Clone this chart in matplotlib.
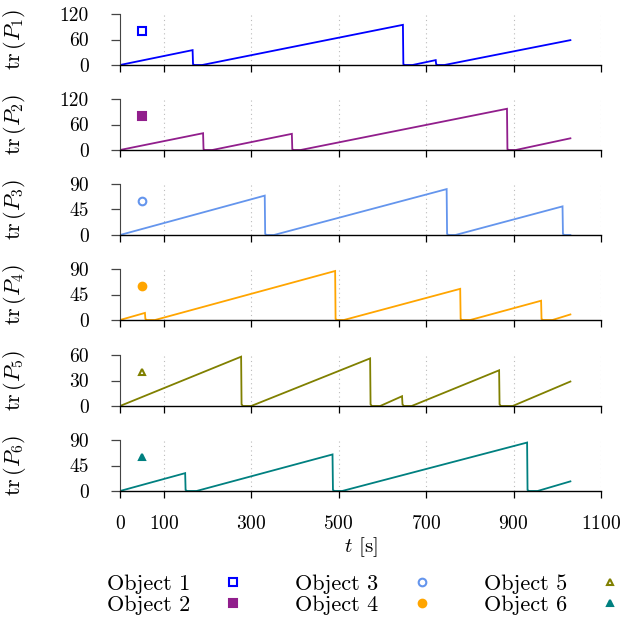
import matplotlib
matplotlib.use("Agg")
import matplotlib.pyplot as plt
from matplotlib.lines import Line2D

plt.rcParams['font.family'] = 'serif'
plt.rcParams['font.serif'] = ['cmr10', 'DejaVu Serif']
plt.rcParams['mathtext.fontset'] = 'cm'
plt.rcParams['axes.formatter.use_mathtext'] = True
plt.rcParams['font.size'] = 14

# sawtooth traces: peak times/values, time each trace starts rising again, end value
peak_t = [
    [166, 647, 722],
    [190, 393, 885],
    [331, 747, 1012],
    [57, 492, 778, 963],
    [277, 572, 645, 867],
    [149, 486, 931],
]
peak_v = [
    [35, 94.5, 11.5],
    [39.5, 38, 97],
    [69.5, 81, 50.5],
    [12.5, 86.5, 55, 34],
    [58, 56, 11.5, 42],
    [31.5, 64.5, 85.5],
]
restart_t = [
    [188, 669, 742],
    [211, 413, 905],
    [352, 767, None],
    [80, 512, 801, 989],
    [300, 595, 667, 898],
    [175, 508, 955],
]
end_t = 1030
end_v = [58.5, 27.5, 0, 9.8, 28.8, 17]

ymax = [120, 120, 90, 90, 60, 90]
colors = ['#0000ff', '#911e8c', '#6495ed', '#ffa500', '#808000', '#008080']
markers = ['s', 's', 'o', 'o', '^', '^']
filled = [False, True, False, True, False, True]
names = ['Object 1', 'Object 2', 'Object 3', 'Object 4', 'Object 5', 'Object 6']
xticks = [0, 100, 300, 500, 700, 900, 1100]


def trace(tp, vp, tr, ve):
    t, v = [0], [0]
    for a, b, c in zip(tp, vp, tr):
        t += [a, a + 1, a + 4]
        v += [b, 2, 0]
        if c is not None:
            t.append(c)
            v.append(0)
    t.append(end_t)
    v.append(ve)
    return t, v


fig = plt.figure(figsize=(6.2, 6.17), dpi=100)
W, H = 620, 617
left, right = 120 / W, 601 / W
axh = 51 / H
bottoms_px = [65, 150, 235, 320, 406, 491]

handles = []
for i in range(6):
    ax = fig.add_axes([left, 1 - bottoms_px[i] / H, right - left, axh])
    t, v = trace(peak_t[i], peak_v[i], restart_t[i], end_v[i])
    ax.plot(t, v, color=colors[i], lw=1.3, solid_joinstyle='miter')
    mfc = colors[i] if filled[i] else 'white'
    ms = 5.5 if markers[i] != '^' else 5
    ax.plot([50], [ymax[i] * 2 / 3], linestyle='none', marker=markers[i],
            ms=ms, mec=colors[i], mfc=mfc, mew=1.5)
    handles.append(Line2D([], [], linestyle='none', marker=markers[i], ms=ms,
                          mec=colors[i], mfc=mfc, mew=1.5))
    ax.set_xlim(0, 1100)
    ax.set_ylim(0, ymax[i])
    ax.set_yticks([0, ymax[i] / 2, ymax[i]])
    ax.set_yticklabels([str(int(y)) for y in [0, ymax[i] / 2, ymax[i]]])
    ax.set_xticks(xticks)
    for x in xticks[1:]:
        ax.axvline(x, color='#bbbbbb', ls=(0, (1, 3)), lw=0.8, zorder=0)
    for s in ['top', 'right']:
        ax.spines[s].set_visible(False)
    ax.spines['left'].set_color('#444444')
    ax.spines['left'].set_linewidth(0.8)
    ax.spines['bottom'].set_linewidth(1.0)
    ax.tick_params(axis='x', direction='out', length=5, width=0.9, pad=12)
    ax.tick_params(axis='y', direction='out', length=6.5, width=0.9, pad=16,
                   colors='#444444', labelcolor='black')
    ax.set_ylabel(r'$\mathrm{tr}\,(P_{%d})$' % (i + 1), fontsize=16)
    ax.yaxis.set_label_coords(-0.191, 0.5)
    if i < 5:
        ax.set_xticklabels([])
    else:
        ax.set_xlabel(r'$t$ [s]', fontsize=15, labelpad=2)

fig.legend(handles, names, ncol=3, markerfirst=False, frameon=False,
           loc='center', bbox_to_anchor=(0.587, 0.0365), fontsize=16,
           handletextpad=1.44, columnspacing=2.3, labelspacing=0.06,
           handlelength=1.0, borderpad=0.2)

fig.savefig('out.png', dpi=100)
